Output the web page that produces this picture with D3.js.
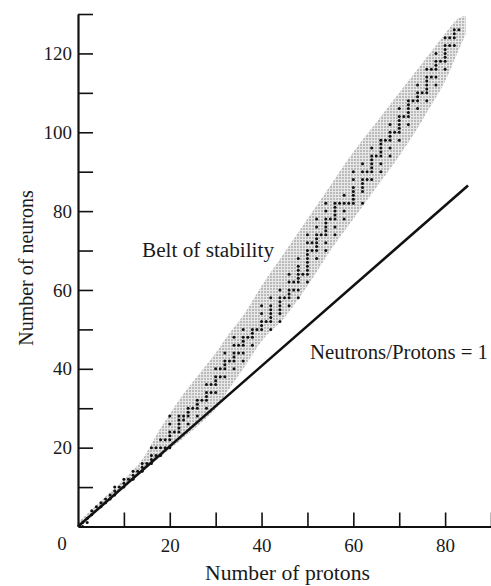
<!DOCTYPE html>
<html>
<head>
<meta charset="utf-8">
<script src="https://cdn.jsdelivr.net/npm/d3@7"></script>
<style>
  body { margin: 0; background: #fff; }
  text { font-family: "Liberation Serif", "Times New Roman", serif; fill: #1a1a1a; }
</style>
</head>
<body>
<div id="chart-area"></div>
<script>
// stable nuclides: stableN[i] holds the neutron numbers for proton number stableZ[i]
var stableZ = [1,2,3,4,5,6,7,8,9,10,11,12,13,14,15,16,17,18,19,20,21,22,23,24,25,26,27,28,29,30,
  31,32,33,34,35,36,37,38,39,40,41,42,44,45,46,47,48,49,50,51,52,53,54,55,56,57,58,59,60,
  62,63,64,65,66,67,68,69,70,71,72,73,74,75,76,77,78,79,80,81,82,83]
var stableN = [
  [0,1],[1,2],[3,4],[5],[5,6],[6,7],[7,8],[8,9,10],[10],[10,11,12],
  [12],[12,13,14],[14],[14,15,16],[16],[16,17,18,20],[18,20],[18,20,22],[20,22],[20,22,23,24,26,28],
  [24],[24,25,26,27,28],[27,28],[26,28,29,30],[30],[28,30,31,32],[32],[30,32,33,34,36],[34,36],[34,36,37,38,40],
  [38,40],[38,40,41,42,44],[42],[40,42,43,44,46,48],[44,46],[42,44,46,47,48,50],[48],[46,48,49,50],[50],[50,51,52,54,56],
  [52],[50,52,53,54,55,56,58],[52,54,55,56,57,58,60],[58],[56,58,59,60,62,64],[60,62],[58,60,62,63,64,65,66,68],[64],
  [62,64,65,66,67,68,69,70,72,74],[70,72],[68,70,71,72,73,74,76,78],[74],[70,72,74,75,76,77,78,80,82],[78],
  [74,76,78,79,80,81,82],[82],[78,80,82,84],[82],[82,83,84,85,86,88,90],
  [82,85,86,87,88,90,92],[88,90],[88,90,91,92,93,94,96],[94],[90,92,94,95,96,97,98],[98],[94,96,98,99,100,102],[100],
  [98,100,101,102,103,104,106],[104],[102,104,105,106,107,108],[108],[106,108,109,110,112],[110],
  [108,110,111,112,113,114,116],[114,116],[112,114,116,117,118,120],[118],[116,118,119,120,121,122,124],[122,124],
  [122,124,125,126],[126]
]

// edges of the grey belt
var beltZ      = [0, 5, 10, 14, 18, 20, 22, 28, 30, 33, 36, 40, 45, 50, 55, 60, 65, 70, 75, 76, 80, 83, 84.5]
var beltUpperN = [1, 6.5, 12, 17, 25, 28.5, 32, 41, 44, 49, 53.5, 61, 69.5, 78, 86.5, 95, 102.5, 110, 117.5, 119, 125, 129, 129.5]
var beltLowerN = [0, 4.8, 9.8, 13.8, 17.7, 19.6, 21.5, 27.5, 29.8, 35, 40, 47, 53, 61, 70, 78, 86, 94, 103, 105, 113, 121, 125]

// N/Z = 1 line
var lineZ = [0, 85]
var lineN = [0, 86.5]

var xTicks = [10, 20, 30, 40, 50, 60, 70, 80, 90]
var yTicks = [10, 20, 30, 40, 50, 60, 70, 80, 90, 100, 110, 120, 130]

var W = 491, H = 586

svg = d3.select('#chart-area').append('svg')
  .attr('width', W)
  .attr('height', H)

var xScale = d3.scaleLinear().domain([0, 90]).range([78, 491])
var yScale = d3.scaleLinear().domain([0, 130]).range([526.5, 14])

// stipple pattern for the belt
var defs = svg.append('defs')
var pat = defs.append('pattern')
  .attr('id', 'stipple')
  .attr('patternUnits', 'userSpaceOnUse')
  .attr('width', 3).attr('height', 3)
pat.append('rect').attr('width', 3).attr('height', 3).attr('fill', '#e8e8e8')
pat.append('circle').attr('cx', 1).attr('cy', 1).attr('r', 0.9).attr('fill', '#a4a4a4')

// belt
var belt = beltZ.map(function(z, i){ return {z: z, lo: beltLowerN[i], hi: beltUpperN[i]} })
var area = d3.area()
  .x(function(d){ return xScale(d.z) })
  .y0(function(d){ return yScale(d.lo) })
  .y1(function(d){ return yScale(d.hi) })
  .curve(d3.curveMonotoneX)

svg.append('path')
  .datum(belt)
  .attr('d', area)
  .attr('fill', 'url(#stipple)')

// stable nuclides
var nuclides = []
stableZ.forEach(function(z, i){
  stableN[i].forEach(function(n){ nuclides.push({z: z, n: n}) })
})

svg.selectAll('circle.nuc')
  .data(nuclides)
  .enter()
  .append('circle')
  .attr('class', 'nuc')
  .attr('cx', function(d){ return xScale(d.z) })
  .attr('cy', function(d){ return yScale(d.n) })
  .attr('r', 1.5)
  .attr('fill', '#111')

// N = Z line
var line = d3.line()
  .x(function(d){ return xScale(d[0]) })
  .y(function(d){ return yScale(d[1]) })

svg.append('path')
  .datum(lineZ.map(function(z, i){ return [z, lineN[i]] }))
  .attr('d', line)
  .attr('fill', 'none')
  .attr('stroke', '#111')
  .attr('stroke-width', 2.6)

// x axis
var xAxis = d3.axisBottom(xScale)
  .tickValues(xTicks)
  .tickSizeInner(-14)
  .tickSizeOuter(0)
  .tickPadding(12)
  .tickFormat(function(d){ return d % 20 == 0 && d < 90 ? d : '' })

var gx = svg.append('g')
  .attr('transform', 'translate(0,' + yScale(0) + ')')
  .call(xAxis)

// y axis
var yAxis = d3.axisLeft(yScale)
  .tickValues(yTicks)
  .tickSizeInner(-15)
  .tickSizeOuter(0)
  .tickPadding(6)
  .tickFormat(function(d){ return d % 20 == 0 && d < 130 ? d : '' })

var gy = svg.append('g')
  .attr('transform', 'translate(' + xScale(0) + ',0)')
  .call(yAxis)

svg.selectAll('.domain').attr('stroke', '#111').attr('stroke-width', 2.2)
svg.selectAll('.tick line').attr('stroke', '#111').attr('stroke-width', 1.6)
svg.selectAll('.tick text')
  .attr('font-size', '19px')
  .attr('font-family', '"Liberation Serif", serif')
  .attr('fill', '#1a1a1a')

// origin label
svg.append('text')
  .attr('x', xScale(0) - 16)
  .attr('y', 550)
  .attr('font-size', '19px')
  .attr('text-anchor', 'middle')
  .text('0')

// axis titles
svg.append('text')
  .attr('x', 205)
  .attr('y', 580)
  .attr('font-size', '20px')
  .attr('textLength', 165)
  .attr('lengthAdjust', 'spacingAndGlyphs')
  .text('Number of protons')

svg.append('text')
  .attr('transform', 'rotate(-90)')
  .attr('x', -268)
  .attr('y', 33)
  .attr('font-size', '20px')
  .attr('text-anchor', 'middle')
  .text('Number of neurons')

// annotations
svg.append('text')
  .attr('x', 142)
  .attr('y', 257)
  .attr('font-size', '20px')
  .attr('textLength', 132)
  .attr('lengthAdjust', 'spacingAndGlyphs')
  .text('Belt of stability')

svg.append('text')
  .attr('x', 310)
  .attr('y', 359)
  .attr('font-size', '20px')
  .attr('textLength', 178)
  .attr('lengthAdjust', 'spacingAndGlyphs')
  .text('Neutrons/Protons = 1')
</script>
</body>
</html>
